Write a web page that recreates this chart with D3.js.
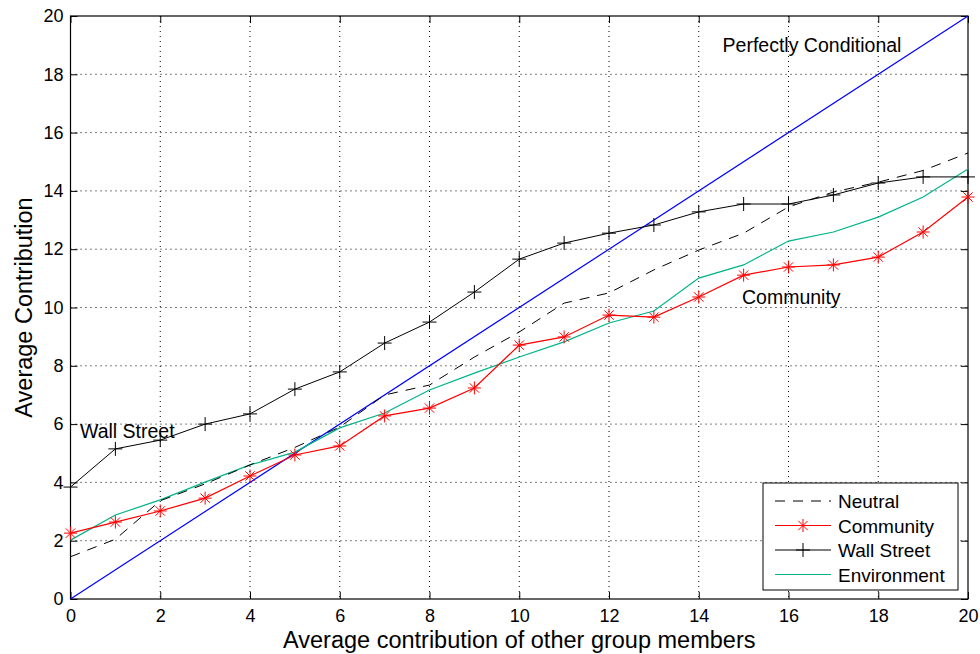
<!DOCTYPE html>
<meta charset="utf-8">
<script src="https://d3js.org/d3.v7.min.js"></script>
<style>
  body { margin: 0; background: #fff; }
  text { font-family: "Liberation Sans", Arial, sans-serif; }
</style>
<div id="chart"></div>
<script>
// data
const xs = [0,1,2,3,4,5,6,7,8,9,10,11,12,13,14,15,16,17,18,19,20];
const neutral = [1.45,2.05,3.37,3.95,4.6,5.2,5.9,7.0,7.34,8.3,9.16,10.15,10.5,11.29,11.97,12.55,13.45,13.96,14.3,14.7,15.3];
const community = [2.26,2.64,3.02,3.46,4.22,4.94,5.25,6.28,6.55,7.24,8.71,8.99,9.74,9.67,10.36,11.11,11.39,11.46,11.73,12.59,13.79];
const wallStreet = [3.84,5.15,5.45,6.0,6.35,7.2,7.79,8.78,9.5,10.53,11.66,12.21,12.55,12.83,13.28,13.55,13.55,13.86,14.27,14.48,14.48];
const environment = [2.02,2.88,3.40,4.01,4.6,5.04,5.87,6.38,7.17,7.75,8.30,8.82,9.47,9.88,11.01,11.46,12.28,12.59,13.1,13.79,14.75];
const perfect = [[0,0],[20,20]];
const ticks = [0,2,4,6,8,10,12,14,16,18,20];

const W = 980, H = 654;
const margin = {top: 16, right: 12, bottom: 55, left: 70.5};
const width = W - margin.left - margin.right,
      height = H - margin.top - margin.bottom;

const svg = d3.select("#chart").append("svg")
    .attr("width", W).attr("height", H);
const g = svg.append("g")
    .attr("transform", `translate(${margin.left},${margin.top})`);

const x = d3.scaleLinear().domain([0, 20]).range([0, width]);
const y = d3.scaleLinear().domain([0, 20]).range([height, 0]);

// dotted grid
g.selectAll(".vgrid").data(ticks.slice(1, -1)).join("line")
    .attr("x1", d => x(d)).attr("x2", d => x(d))
    .attr("y1", 0).attr("y2", height)
    .attr("stroke", "#000").attr("stroke-width", 1)
    .attr("stroke-dasharray", "1,4");
g.selectAll(".hgrid").data(ticks.slice(1, -1)).join("line")
    .attr("y1", d => y(d)).attr("y2", d => y(d))
    .attr("x1", 0).attr("x2", width)
    .attr("stroke", "#000").attr("stroke-width", 1)
    .attr("stroke-dasharray", "1,4");

// axes (ticks inside, matlab style)
const fs = "18px";
g.append("g").attr("transform", `translate(0,${height})`)
    .call(d3.axisBottom(x).tickValues(ticks).tickSize(-7).tickPadding(10))
    .call(a => a.select(".domain").remove())
    .selectAll("text").style("font-size", fs).attr("fill", "#000");
g.append("g")
    .call(d3.axisLeft(y).tickValues(ticks).tickSize(-7).tickPadding(7))
    .call(a => a.select(".domain").remove())
    .selectAll("text").style("font-size", fs).attr("fill", "#000");
g.append("g")
    .call(d3.axisTop(x).tickValues(ticks).tickSize(-7).tickFormat(""))
    .call(a => a.select(".domain").remove());
g.append("g").attr("transform", `translate(${width},0)`)
    .call(d3.axisRight(y).tickValues(ticks).tickSize(-7).tickFormat(""))
    .call(a => a.select(".domain").remove());
g.append("rect").attr("width", width).attr("height", height)
    .attr("fill", "none").attr("stroke", "#000").attr("stroke-width", 1.2);

const line = d3.line().x((d, i) => x(xs[i])).y(d => y(d));

// perfectly conditional
g.append("path").datum(perfect)
    .attr("d", d3.line().x(d => x(d[0])).y(d => y(d[1])))
    .attr("fill", "none").attr("stroke", "#0000ff").attr("stroke-width", 1.2);

g.append("path").datum(environment).attr("d", line)
    .attr("fill", "none").attr("stroke", "#00b38a").attr("stroke-width", 1.2);
g.append("path").datum(neutral).attr("d", line)
    .attr("fill", "none").attr("stroke", "#000").attr("stroke-width", 1)
    .attr("stroke-dasharray", "10,8");
g.append("path").datum(community).attr("d", line)
    .attr("fill", "none").attr("stroke", "#ff0000").attr("stroke-width", 1.2);
g.append("path").datum(wallStreet).attr("d", line)
    .attr("fill", "none").attr("stroke", "#000").attr("stroke-width", 1);

// markers
function plus(sel, r, color) {
  sel.append("line").attr("x1", -r).attr("x2", r).attr("y1", 0).attr("y2", 0).attr("stroke", color);
  sel.append("line").attr("y1", -r).attr("y2", r).attr("x1", 0).attr("x2", 0).attr("stroke", color);
}
function star(sel, r, color) {
  plus(sel, r, color);
  const k = r * 0.72;
  sel.append("line").attr("x1", -k).attr("x2", k).attr("y1", -k).attr("y2", k).attr("stroke", color);
  sel.append("line").attr("x1", -k).attr("x2", k).attr("y1", k).attr("y2", -k).attr("stroke", color);
}
g.selectAll(".ws").data(wallStreet).join("g")
    .attr("transform", (d, i) => `translate(${x(xs[i])},${y(d)})`)
    .each(function() { plus(d3.select(this), 7, "#000"); });
g.selectAll(".cm").data(community).join("g")
    .attr("transform", (d, i) => `translate(${x(xs[i])},${y(d)})`)
    .each(function() { star(d3.select(this), 6.5, "#ff0000"); });

// annotations
const afs = "19.5px";
g.append("text").attr("x", 812 - margin.left).attr("y", 52 - margin.top).attr("text-anchor", "middle")
    .style("font-size", afs).text("Perfectly Conditional");
g.append("text").attr("x", 80 - margin.left).attr("y", 438 - margin.top).style("font-size", afs).text("Wall Street");
g.append("text").attr("x", 742 - margin.left).attr("y", 304 - margin.top).style("font-size", afs).text("Community");

// axis titles
svg.append("text").attr("x", margin.left + width / 2).attr("y", 648)
    .attr("text-anchor", "middle").style("font-size", "23.5px")
    .text("Average contribution of other group members");
svg.append("text").attr("transform", `translate(32,${margin.top + height / 2}) rotate(-90)`)
    .attr("text-anchor", "middle").style("font-size", "23.5px")
    .text("Average Contribution");

// legend
const lg = svg.append("g").attr("transform", "translate(763,483)");
lg.append("rect").attr("width", 195).attr("height", 107)
    .attr("fill", "#fff").attr("stroke", "#000");
const items = [
  {name: "Neutral", color: "#000", dash: "10,8", mark: null},
  {name: "Community", color: "#ff0000", dash: null, mark: "star"},
  {name: "Wall Street", color: "#000", dash: null, mark: "plus"},
  {name: "Environment", color: "#00b38a", dash: null, mark: null}
];
items.forEach((it, i) => {
  const row = lg.append("g").attr("transform", `translate(0,${18 + i * 24.5})`);
  row.append("line").attr("x1", 12).attr("x2", 68).attr("stroke", it.color)
      .attr("stroke-width", 1.2).attr("stroke-dasharray", it.dash);
  const m = row.append("g").attr("transform", "translate(40,0)");
  if (it.mark === "star") star(m, 6.5, it.color);
  if (it.mark === "plus") plus(m, 7, it.color);
  row.append("text").attr("x", 75).attr("y", 7).style("font-size", "19px").text(it.name);
});
</script>
